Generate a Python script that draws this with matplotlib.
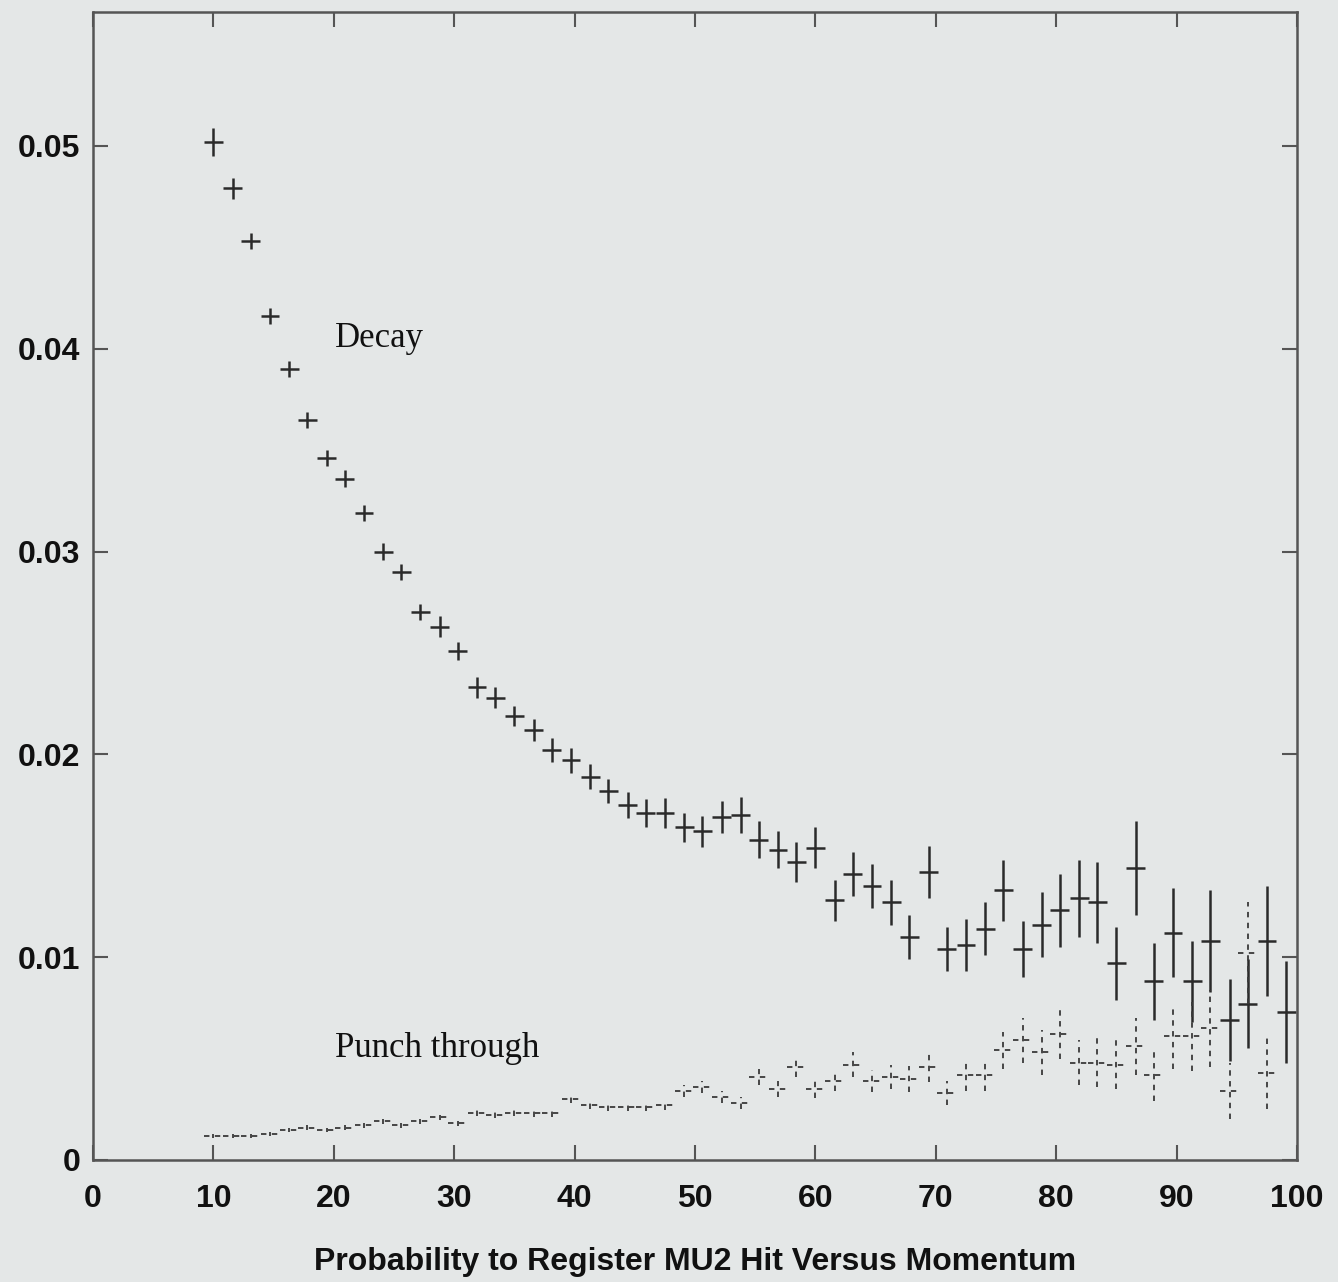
import matplotlib
matplotlib.use("Agg")
import matplotlib.pyplot as plt
import numpy as np

# bin centres (momentum)
momentum = [10.0, 11.6, 13.1, 14.7, 16.3, 17.8, 19.4, 20.9, 22.5, 24.1,
            25.6, 27.2, 28.8, 30.3, 31.9, 33.4, 35.0, 36.6, 38.1, 39.7,
            41.3, 42.8, 44.4, 45.9, 47.5, 49.1, 50.6, 52.2, 53.8, 55.3,
            56.9, 58.4, 60.0, 61.6, 63.1, 64.7, 66.3, 67.8, 69.4, 70.9,
            72.5, 74.1, 75.6, 77.2, 78.8, 80.3, 81.9, 83.4, 85.0, 86.6,
            88.1, 89.7, 91.3, 92.8, 94.4, 95.9, 97.5, 99.1]
bin_half = 0.78

decay = [0.0502, 0.0479, 0.0453, 0.0416, 0.0390, 0.0365, 0.0346, 0.0336, 0.0319, 0.0300,
         0.0290, 0.0270, 0.0263, 0.0251, 0.0233, 0.0228, 0.0219, 0.0212, 0.0202, 0.0197,
         0.0189, 0.0182, 0.0175, 0.0171, 0.0171, 0.0164, 0.0162, 0.0169, 0.0170, 0.0158,
         0.0153, 0.0147, 0.0154, 0.0128, 0.0141, 0.0135, 0.0127, 0.0110, 0.0142, 0.0104,
         0.0106, 0.0114, 0.0133, 0.0104, 0.0116, 0.0123, 0.0129, 0.0127, 0.0097, 0.0144,
         0.0088, 0.0112, 0.0088, 0.0108, 0.0069, 0.0077, 0.0108, 0.0073]
decay_err = [0.0007, 0.0005, 0.0004, 0.0004, 0.0004, 0.0004, 0.0004, 0.0004, 0.0004, 0.0004,
             0.0004, 0.0004, 0.0005, 0.00045, 0.0005, 0.0005, 0.0005, 0.00055, 0.0006, 0.0006,
             0.0006, 0.0006, 0.00065, 0.0007, 0.00075, 0.0007, 0.00075, 0.0008, 0.0009, 0.0009,
             0.0009, 0.001, 0.001, 0.001, 0.0011, 0.0011, 0.0011, 0.0011, 0.0013, 0.0011,
             0.0013, 0.0013, 0.0015, 0.0014, 0.0016, 0.0018, 0.0019, 0.002, 0.0018, 0.0023,
             0.0019, 0.0022, 0.002, 0.0025, 0.002, 0.0022, 0.0027, 0.0025]

punch = [0.0012, 0.0012, 0.0012, 0.0013, 0.0015, 0.0016, 0.0015, 0.0016, 0.0017, 0.0019,
         0.0017, 0.0019, 0.0021, 0.0018, 0.0023, 0.0022, 0.0023, 0.0023, 0.0023, 0.0030,
         0.0027, 0.0026, 0.0026, 0.0026, 0.0027, 0.0034, 0.0036, 0.0031, 0.0028, 0.0041,
         0.0035, 0.0046, 0.0035, 0.0039, 0.0047, 0.0039, 0.0041, 0.0040, 0.0046, 0.0033,
         0.0042, 0.0042, 0.0054, 0.0059, 0.0053, 0.0062, 0.0048, 0.0048, 0.0047, 0.0056,
         0.0042, 0.0061, 0.0061, 0.0065, 0.0034, 0.0102, 0.0043, np.nan]
punch_err = [0.0001, 0.0001, 0.0001, 0.0001, 0.0001, 0.0001, 0.0001, 0.0001, 0.00012, 0.00012,
             0.00012, 0.00012, 0.00014, 0.00014, 0.00015, 0.00015, 0.00015, 0.00016, 0.00016, 0.0002,
             0.0002, 0.0002, 0.0002, 0.0002, 0.00025, 0.0003, 0.0003, 0.0003, 0.0003, 0.0004,
             0.0004, 0.0005, 0.00045, 0.0005, 0.0006, 0.00055, 0.0006, 0.00065, 0.00075, 0.0006,
             0.0008, 0.0008, 0.0009, 0.0011, 0.0011, 0.0012, 0.0011, 0.0012, 0.0012, 0.0014,
             0.0013, 0.0016, 0.0017, 0.0019, 0.0014, 0.0025, 0.0018, np.nan]

xticks = [0, 10, 20, 30, 40, 50, 60, 70, 80, 90, 100]
yticks = [0, 0.01, 0.02, 0.03, 0.04, 0.05]
ytick_labels = ["0", "0.01", "0.02", "0.03", "0.04", "0.05"]

bg = "#e4e7e7"
ink = "#2a2a2a"

fig = plt.figure(figsize=(13.38, 12.82), dpi=100, facecolor=bg)
ax = fig.add_axes([0.0695, 0.0952, 0.8999, 0.8954], facecolor=bg)

ax.errorbar(momentum, decay, yerr=decay_err, xerr=bin_half, fmt="none",
            ecolor=ink, elinewidth=1.8, capsize=0)

pe = ax.errorbar(momentum, punch, yerr=punch_err, xerr=bin_half, fmt="none",
                 ecolor="#3a3a3a", elinewidth=1.3, capsize=0)
for lc in pe[2]:
    lc.set_linestyle((0, (3, 3)))

ax.text(20.1, 0.0405, "Decay", family="Liberation Serif", fontsize=25,
        color="#111111", va="center", ha="left")
ax.text(20.1, 0.0055, "Punch through", family="Liberation Serif", fontsize=25,
        color="#111111", va="center", ha="left")

ax.set_xlim(0, 100)
ax.set_ylim(0, 0.0566)
ax.set_xticks(xticks)
ax.set_xticklabels([str(t) for t in xticks])
ax.set_yticks(yticks)
ax.set_yticklabels(ytick_labels)

for lab in ax.get_xticklabels() + ax.get_yticklabels():
    lab.set_family("Liberation Sans")
    lab.set_fontweight("bold")
    lab.set_fontsize(23)
    lab.set_color("#111111")

ax.tick_params(axis="both", which="major", direction="in", length=11, width=1.5,
               color="#555555", top=True, right=True)
ax.tick_params(axis="x", pad=17)
ax.tick_params(axis="y", pad=9)

for s in ax.spines.values():
    s.set_color("#555555")
    s.set_linewidth(1.8)

ax.set_xlabel("Probability to Register MU2 Hit Versus Momentum",
              family="Liberation Sans", fontweight="bold", fontsize=23,
              color="#111111", labelpad=24)

plt.savefig("out.png", dpi=100, facecolor=bg)
